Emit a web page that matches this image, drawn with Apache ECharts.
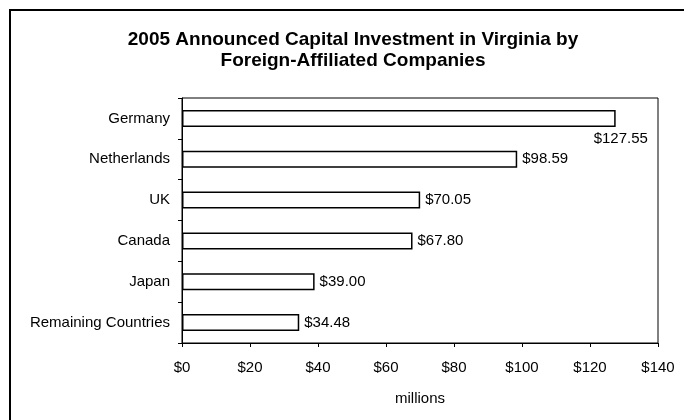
<!DOCTYPE html>
<html>
<head>
<meta charset="utf-8">
<script src="https://cdn.jsdelivr.net/npm/echarts@6/dist/echarts.min.js"></script>
<style>
    html, body { margin: 0; padding: 0; background: #fff; }
    #chart { width: 684px; height: 420px; }
</style>
</head>
<body>
<div id="chart"></div>
<script>
// 国家 / 金额（百万美元）
const countries = ['Germany', 'Netherlands', 'UK', 'Canada', 'Japan', 'Remaining Countries'];
const investment = [127.55, 98.59, 70.05, 67.80, 39.00, 34.48];
const xTicks = [0, 20, 40, 60, 80, 100, 120, 140];

const font = 'Arial, "Liberation Sans", sans-serif';

// Germany 的标签放在柱子下方
const seriesData = investment.map((v, i) => {
    if (i === 0) {
        return {
            value: v,
            label: {
                position: ['100%', '100%'],
                align: 'left',
                verticalAlign: 'top',
                offset: [-22, 4]
            }
        };
    }
    return v;
});

const chart = echarts.init(document.getElementById('chart'));
chart.setOption({
    backgroundColor: '#fff',
    animation: false,
    title: {
        text: '2005 Announced Capital Investment in Virginia by\nForeign-Affiliated Companies',
        left: 348,
        top: 24,
        textAlign: 'center',
        textStyle: {
            fontFamily: font,
            fontSize: 19,
            fontWeight: 'bold',
            color: '#000',
            lineHeight: 21
        }
    },
    graphic: [
        {
            type: 'rect',
            shape: { x: 10, y: 10, width: 700, height: 440 },
            style: { fill: 'none', stroke: '#000', lineWidth: 2 },
            silent: true
        }
    ],
    grid: {
        left: 182,
        right: 26,
        top: 98,
        bottom: 77,
        show: true,
        borderColor: '#000',
        borderWidth: 1,
        backgroundColor: 'transparent'
    },
    xAxis: {
        type: 'value',
        min: xTicks[0],
        max: xTicks[xTicks.length - 1],
        interval: 20,
        name: 'millions',
        nameLocation: 'middle',
        nameGap: 48,
        nameTextStyle: { fontFamily: font, fontSize: 15, color: '#000' },
        axisLine: { show: true, lineStyle: { color: '#000', width: 1 } },
        axisTick: { show: true, length: 4, lineStyle: { color: '#000' } },
        axisLabel: {
            formatter: (v) => '$' + v,
            fontFamily: font,
            fontSize: 15,
            color: '#000',
            margin: 17
        },
        splitLine: { show: false }
    },
    yAxis: {
        type: 'category',
        inverse: true,
        data: countries,
        axisLine: { show: true, lineStyle: { color: '#000', width: 1 } },
        axisTick: { show: true, length: 4, lineStyle: { color: '#000' } },
        axisLabel: {
            fontFamily: font,
            fontSize: 15,
            color: '#000',
            margin: 12
        },
        splitLine: { show: false }
    },
    series: [
        {
            type: 'bar',
            data: seriesData,
            barWidth: 17,
            itemStyle: {
                color: '#fff',
                borderColor: '#000',
                borderWidth: 1.5
            },
            label: {
                show: true,
                position: 'right',
                distance: 5,
                formatter: (p) => '$' + p.value.toFixed(2),
                fontFamily: font,
                fontSize: 15,
                color: '#000'
            }
        }
    ]
});
</script>
</body>
</html>
